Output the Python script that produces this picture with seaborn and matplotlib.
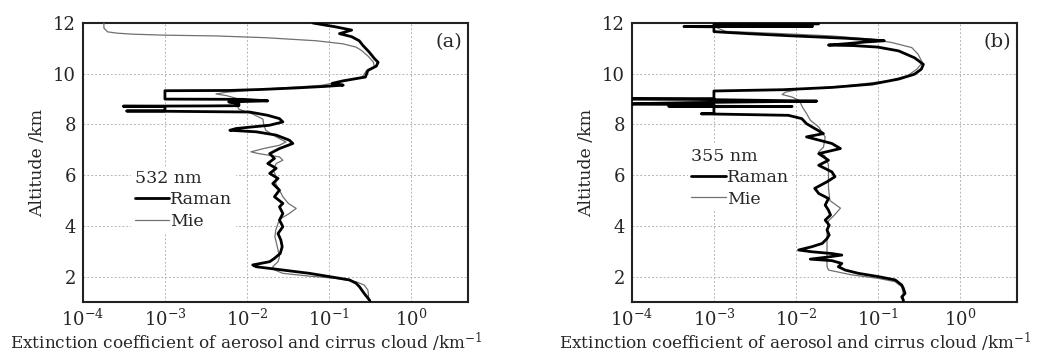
import numpy as np
import pandas as pd
import matplotlib
matplotlib.use("Agg")
import matplotlib.pyplot as plt
import seaborn as sns
from matplotlib.ticker import LogLocator, FixedLocator, NullFormatter
from matplotlib.lines import Line2D

# ---------------- data ----------------
# Panel (a) 532 nm
alt_a_raman = [12.0, 11.85, 11.72, 11.58, 11.46, 11.3, 11.12, 10.86, 10.6, 10.45, 10.3, 10.13,
               9.87, 9.72, 9.62, 9.55, 9.5, 9.44, 9.38, 9.34, 9.33,
               9.0, 8.99, 8.93, 8.89, 8.82, 8.74, 8.73, 8.72, 8.71, 8.54, 8.53, 8.52, 8.49,
               8.36, 8.23, 8.10, 7.97, 7.84, 7.77, 7.71, 7.58, 7.38, 7.25, 7.05, 6.85, 6.66,
               6.46, 6.27, 6.07, 5.87, 5.67, 5.41, 5.15, 4.89, 4.75, 4.49, 4.23, 3.97, 3.70,
               3.44, 3.18, 2.91, 2.72, 2.59, 2.46, 2.39, 2.26, 2.13, 2.0, 1.87, 1.74, 1.6,
               1.34, 1.08, 1.0]
ext_a_raman = [0.064, 0.12, 0.19, 0.135, 0.19, 0.235, 0.26, 0.31, 0.36, 0.40, 0.38, 0.30,
               0.28, 0.15, 0.11, 0.15, 0.09, 0.04, 0.015, 0.006, 0.001,
               0.001, 0.009, 0.018, 0.006, 0.008, 0.008, 0.0031, 0.00031, 0.001, 0.001, 0.00034, 0.001, 0.0108,
               0.018, 0.025, 0.0275, 0.019, 0.0074, 0.0062, 0.013, 0.0228, 0.033, 0.0364, 0.025, 0.019, 0.0217,
               0.018, 0.0228, 0.019, 0.024, 0.0207, 0.025, 0.0217, 0.0275, 0.025, 0.0275, 0.025, 0.0275, 0.024,
               0.026, 0.027, 0.0255, 0.0217, 0.019, 0.0118, 0.013, 0.0275, 0.058, 0.102, 0.179, 0.215, 0.237,
               0.27, 0.313, 0.32]

alt_a_mie = [12.0, 11.8, 11.65, 11.6, 11.56, 11.52, 11.49, 11.42, 11.3, 11.18, 11.05, 10.92,
             10.7, 10.46, 10.27, 10.13, 9.87, 9.67, 9.54, 9.41, 9.27, 9.2, 9.14, 9.0, 8.8, 8.6,
             8.41, 8.21, 8.03, 7.77, 7.51, 7.31, 7.18, 7.05, 6.92, 6.85, 6.72, 6.59, 6.46, 6.2,
             5.94, 5.67, 5.41, 5.15, 4.89, 4.69, 4.49, 4.29, 4.1, 3.83, 3.57, 3.31, 3.05, 2.78,
             2.59, 2.39, 2.26, 2.13, 2.02, 1.93, 1.8, 1.67, 1.47, 1.28, 1.08, 1.0]
ext_a_mie = [0.00018, 0.00018, 0.0002, 0.00026, 0.0004, 0.001, 0.0042, 0.017, 0.07, 0.148, 0.215, 0.25,
             0.30, 0.35, 0.36, 0.29, 0.255, 0.135, 0.08, 0.019, 0.0056, 0.0042, 0.0056, 0.008, 0.0074, 0.008,
             0.0118, 0.0157, 0.016, 0.017, 0.0228, 0.030, 0.025, 0.016, 0.0112, 0.014, 0.025, 0.0275, 0.0228, 0.021,
             0.0228, 0.0225, 0.025, 0.0275, 0.032, 0.040, 0.033, 0.026, 0.024, 0.0225, 0.022, 0.023, 0.024, 0.025,
             0.024, 0.0207, 0.022, 0.0275, 0.058, 0.123, 0.215, 0.27, 0.30, 0.305, 0.305, 0.305]

# Panel (b) 355 nm
alt_b_raman = [12.0, 11.97, 11.95, 11.88, 11.87, 11.86, 11.85, 11.66, 11.63, 11.57, 11.5, 11.45,
               11.40, 11.34, 11.30, 11.25, 11.18, 11.13, 11.11, 11.05, 10.9, 10.63, 10.37, 10.18,
               9.98, 9.79, 9.59, 9.46, 9.37, 9.32,
               9.02, 9.01, 8.99, 8.95, 8.92, 8.89, 8.86, 8.80, 8.79, 8.73, 8.72, 8.71, 8.70,
               8.43, 8.42, 8.36, 8.23, 8.03, 7.84, 7.64, 7.51, 7.25, 7.05, 6.85, 6.59, 6.39,
               6.13, 5.94, 5.74, 5.48, 5.28, 5.08, 4.82, 4.62, 4.43, 4.23, 4.03, 3.84, 3.64,
               3.5, 3.31, 3.18, 3.05, 2.98, 2.91, 2.85, 2.76, 2.69, 2.63, 2.52, 2.39, 2.26,
               2.13, 2.0, 1.87, 1.67, 1.54, 1.34, 1.2, 1.08, 1.0]
ext_b_raman = [0.0013, 0.019, 0.001, 0.001, 0.016, 0.00043, 0.001, 0.001, 0.0014, 0.003, 0.008, 0.018,
               0.04, 0.08, 0.12, 0.07, 0.04, 0.025, 0.05, 0.10, 0.18, 0.28, 0.36, 0.34,
               0.28, 0.18, 0.085, 0.0275, 0.007, 0.001,
               0.001, 0.00005, 0.0005, 0.004, 0.018, 0.003, 0.0005, 0.00005, 0.001, 0.001, 0.00028, 0.009, 0.001,
               0.001, 0.0007, 0.0081, 0.0118, 0.0135, 0.017, 0.0217, 0.0135, 0.0275, 0.035, 0.019, 0.025, 0.019,
               0.0275, 0.030, 0.024, 0.017, 0.019, 0.025, 0.0228, 0.025, 0.0265, 0.0228, 0.0255, 0.024, 0.0255,
               0.024, 0.021, 0.0157, 0.0108, 0.0157, 0.0275, 0.0364, 0.0228, 0.015, 0.0275, 0.0364, 0.033, 0.040,
               0.058, 0.102, 0.163, 0.196, 0.205, 0.215, 0.196, 0.205, 0.205]

alt_b_mie = [12.0, 11.8, 11.67, 11.58, 11.49, 11.36, 11.23, 11.03, 10.77, 10.44, 10.18, 9.92,
             9.72, 9.52, 9.39, 9.27, 9.18, 9.08, 8.95, 8.69, 8.43, 8.17, 7.9, 7.5, 7.1, 6.92,
             6.75, 6.4, 6.0, 5.5, 5.0, 4.7, 4.45, 4.2, 3.8, 3.3, 2.8, 2.4, 2.26, 2.07, 1.93,
             1.8, 1.6, 1.3, 1.0]
ext_b_mie = [0.0011, 0.0011, 0.0014, 0.0068, 0.0275, 0.085, 0.148, 0.26, 0.31, 0.35, 0.30, 0.23,
             0.135, 0.04, 0.011, 0.0074, 0.0068, 0.009, 0.011, 0.012, 0.0135, 0.015, 0.019, 0.0228, 0.0217, 0.019,
             0.0228, 0.025, 0.025, 0.025, 0.026, 0.035, 0.030, 0.025, 0.024, 0.024, 0.024, 0.024, 0.025, 0.048, 0.102,
             0.163, 0.196, 0.205, 0.205]

panel_labels = ["(a)", "(b)"]
wavelengths = ["532 nm", "355 nm"]
series_names = ["Raman", "Mie"]
x_ticks = [1e-4, 1e-3, 1e-2, 1e-1, 1e0]
y_ticks = [2, 4, 6, 8, 10, 12]

# ---------------- style ----------------
sns.set_style("white")
plt.rcParams["font.family"] = ["DejaVu Serif"]
plt.rcParams["mathtext.fontset"] = "dejavuserif"

fig = plt.figure(figsize=(10.39, 3.53), dpi=100)
ax_a = fig.add_axes([83 / 1039, 51 / 353, 385 / 1039, 279 / 353])
ax_b = fig.add_axes([632 / 1039, 51 / 353, 385 / 1039, 279 / 353])

panels = [
    (ax_a, alt_a_raman, ext_a_raman, alt_a_mie, ext_a_mie, (0.125, 0.485), 0.425),
    (ax_b, alt_b_raman, ext_b_raman, alt_b_mie, ext_b_mie, (0.145, 0.565), 0.425),
]
colors = {"Raman": "black", "Mie": "#707070"}
widths = {"Raman": 2.0, "Mie": 0.9}

for i, (ax, ar, er, am, em, legpos, xlab_x) in enumerate(panels):
    df = pd.concat([
        pd.DataFrame({"alt": ar, "ext": er, "series": "Raman"}),
        pd.DataFrame({"alt": am, "ext": em, "series": "Mie"}),
    ])
    for name in ["Mie", "Raman"]:
        sub = df[df["series"] == name]
        sns.lineplot(data=sub, x="ext", y="alt", orient="y", sort=False, estimator=None,
                     color=colors[name], lw=widths[name], ax=ax, legend=False, zorder=3)
    ax.set_xscale("log")
    ax.set_xlim(1e-4, 5.0)
    ax.set_ylim(1, 12)
    ax.set_xticks(x_ticks)
    ax.xaxis.set_minor_locator(LogLocator(base=10, subs=np.arange(2, 10)))
    ax.xaxis.set_minor_formatter(NullFormatter())
    ax.set_yticks(y_ticks)
    ax.yaxis.set_minor_locator(FixedLocator([1, 3, 5, 7, 9, 11]))
    ax.tick_params(axis="both", which="major", direction="in", length=5, width=1.0,
                   labelsize=13, top=False, right=False, pad=5)
    ax.tick_params(axis="both", which="minor", direction="in", length=3, width=0.9,
                   top=False, right=False)
    ax.grid(True, which="major", color="#b5b5b5", linestyle=(0, (2, 2)), linewidth=0.7, zorder=0)
    for sp in ax.spines.values():
        sp.set_linewidth(1.5)
        sp.set_color("#222222")
    ax.set_xlabel("Extinction coefficient of aerosol and cirrus cloud /km$^{-1}$", fontsize=12.2)
    ax.xaxis.set_label_coords(xlab_x, -0.105)
    ax.set_ylabel("Altitude /km", fontsize=12.5)
    ax.yaxis.set_label_coords(-0.095, 0.5)
    ax.text(0.985, 0.965, panel_labels[i], transform=ax.transAxes, ha="right", va="top", fontsize=14)

    handles = [Line2D([], [], color=colors[n], lw=widths[n]) for n in series_names]
    leg = ax.legend(handles, series_names, title=wavelengths[i], loc="upper left",
                    bbox_to_anchor=legpos, fontsize=12.5, title_fontsize=12.5, frameon=True,
                    handlelength=2.0, handletextpad=0.05, labelspacing=0.25,
                    borderpad=0.2, borderaxespad=0.0, alignment="left")
    leg.get_frame().set_facecolor("white")
    leg.get_frame().set_edgecolor("none")
    leg.get_frame().set_alpha(1.0)
    leg.set_zorder(5)

fig.savefig("out.png", dpi=100)
